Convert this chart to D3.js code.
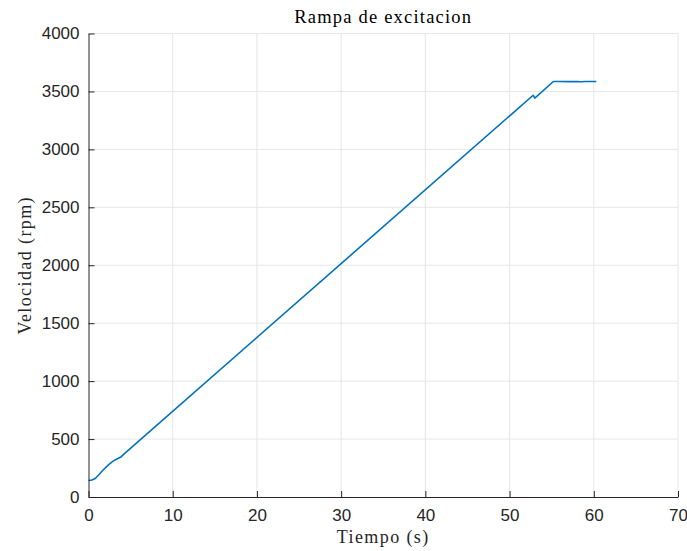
<!DOCTYPE html>
<html>
<head>
<meta charset="utf-8">
<script src="https://cdn.jsdelivr.net/npm/d3@7"></script>
<style>
  html, body { margin: 0; padding: 0; background: #fff; }
  svg { display: block; }
</style>
</head>
<body>
<svg id="chart" width="687" height="551"></svg>
<script>
// Speed ramp samples: time (s) and speed (rpm)
const timeS = [0, 0.4, 0.8, 1.2, 1.6, 2.0, 2.4, 2.8, 3.2, 3.6, 3.9, 4.2, 52.8, 53.0, 55.2, 56.0, 57.0, 58.0, 58.5, 59.0, 60.3];
const speedRpm = [142, 147, 160, 190, 222, 252, 279, 303, 322, 336, 348, 370, 3467, 3443, 3586, 3586, 3585, 3586, 3584, 3586, 3586];

const xTicks = [0, 10, 20, 30, 40, 50, 60, 70];
const yTicks = [0, 500, 1000, 1500, 2000, 2500, 3000, 3500, 4000];

const title = "Rampa de excitacion";
const xLabel = "Tiempo (s)";
const yLabel = "Velocidad (rpm)";

const W = 687, H = 551;
const m = { left: 88.5, right: 9, top: 33.5, bottom: 54 };
const svg = d3.select("#chart");

const x = d3.scaleLinear().domain([0, 70]).range([m.left, W - m.right]);
const y = d3.scaleLinear().domain([0, 4000]).range([H - m.bottom, m.top]);

// grid
const grid = svg.append("g").attr("stroke", "#e6e6e6").attr("stroke-width", 1);
grid.selectAll("line.vx").data(xTicks.filter(d => d > 0)).join("line")
  .attr("x1", d => x(d)).attr("x2", d => x(d))
  .attr("y1", y(0)).attr("y2", y(4000));
grid.selectAll("line.hy").data(yTicks.filter(d => d > 0)).join("line")
  .attr("x1", x(0)).attr("x2", x(70))
  .attr("y1", d => y(d)).attr("y2", d => y(d));

// data line
const line = d3.line().x((d, i) => x(timeS[i])).y((d, i) => y(speedRpm[i]));
svg.append("path")
  .attr("d", line(timeS))
  .attr("fill", "none")
  .attr("stroke", "#0072BD")
  .attr("stroke-width", 1.6)
  .attr("stroke-linejoin", "round");

// axes (ticks pointing inward)
const tickFont = "'Liberation Sans', Arial, sans-serif";
const fmt = d3.format("d");
const xAxis = svg.append("g")
  .attr("transform", `translate(0,${y(0)})`)
  .call(d3.axisBottom(x).tickValues(xTicks).tickFormat(fmt).tickSize(-6).tickPadding(12).tickSizeOuter(0));
const yAxis = svg.append("g")
  .attr("transform", `translate(${x(0)},0)`)
  .call(d3.axisLeft(y).tickValues(yTicks).tickFormat(fmt).tickSize(-6).tickPadding(9).tickSizeOuter(0));

[xAxis, yAxis].forEach(a => {
  a.selectAll("path.domain").attr("stroke", "#262626").attr("stroke-width", 1);
  a.selectAll(".tick line").attr("stroke", "#262626");
  a.selectAll(".tick text").attr("fill", "#262626")
    .style("font-family", tickFont).style("font-size", "17px");
});

// labels
const serif = "'Liberation Serif', 'DejaVu Serif', serif";
svg.append("text")
  .attr("x", (x(0) + x(70)) / 2).attr("y", 23)
  .attr("text-anchor", "middle")
  .style("font-family", serif).style("font-size", "18.5px")
  .style("letter-spacing", "1.2px").attr("fill", "#000")
  .text(title);
svg.append("text")
  .attr("x", (x(0) + x(70)) / 2).attr("y", 543)
  .attr("text-anchor", "middle")
  .style("font-family", serif).style("font-size", "18px")
  .style("letter-spacing", "1.4px").attr("fill", "#262626")
  .text(xLabel);
svg.append("text")
  .attr("transform", `translate(31,${(y(0) + y(4000)) / 2}) rotate(-90)`)
  .attr("text-anchor", "middle")
  .style("font-family", serif).style("font-size", "18px")
  .style("letter-spacing", "1.4px").attr("fill", "#262626")
  .text(yLabel);
</script>
</body>
</html>
